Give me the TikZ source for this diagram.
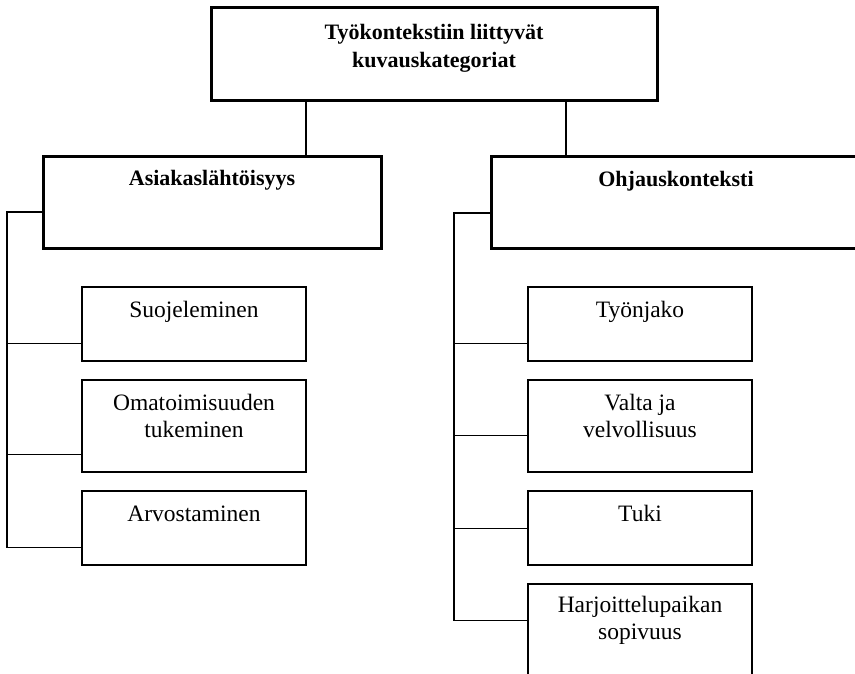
\documentclass[tikz,border=0pt]{standalone}
\usepackage{fontspec}
\setmainfont{Liberation Serif}
\begin{document}
\begin{tikzpicture}[x=1pt,y=-1pt,
  thickbox/.style={draw, line width=3pt, inner sep=0pt},
  thinbox/.style={draw, line width=1.4pt, inner sep=0pt},
  conn/.style={line width=1.2pt},
  lbl/.style={inner sep=0pt, align=center, font=\fontsize{23.5}{27}\selectfont},
  blbl/.style={inner sep=0pt, align=center, font=\fontsize{22}{28}\selectfont\bfseries}]
\useasboundingbox (0,0) rectangle (855,674);
% boxes
\node[thickbox, minimum width=446pt, minimum height=93pt] (T) at (434,54.5) {};
\node[thickbox, minimum width=338pt, minimum height=92pt] (A) at (212,203) {};
\node[thickbox, minimum width=379pt, minimum height=92pt] (O) at (680.5,203) {};
\node[thinbox, minimum width=224pt, minimum height=74pt] (S) at (194,324) {};
\node[thinbox, minimum width=224pt, minimum height=92pt] (Om) at (194,426) {};
\node[thinbox, minimum width=224pt, minimum height=74pt] (Ar) at (194,528) {};
\node[thinbox, minimum width=224pt, minimum height=74pt] (Ty) at (640,324) {};
\node[thinbox, minimum width=224pt, minimum height=92pt] (V) at (640,426) {};
\node[thinbox, minimum width=224pt, minimum height=74pt] (Tu) at (640,528) {};
\node[thinbox, minimum width=224pt, minimum height=110pt] (H) at (640,639) {};
% labels (anchor base = baseline of last line)
\node[blbl, anchor=base] (tT) at ([yshift=-61pt]T.north) {Työkontekstiin liittyvät\\kuvauskategoriat};
\node[blbl, anchor=base] (tA) at ([yshift=-30pt]A.north) {Asiakaslähtöisyys};
\node[blbl, anchor=base] (tO) at ([yshift=-31pt]O.north -| 676,0) {Ohjauskonteksti};
\node[lbl, anchor=base] (tS) at ([yshift=-31pt]S.north) {Suojeleminen};
\node[lbl, anchor=base] (tOm) at ([yshift=-58pt]Om.north) {Omatoimisuuden\\tukeminen};
\node[lbl, anchor=base] (tAr) at ([yshift=-31pt]Ar.north) {Arvostaminen};
\node[lbl, anchor=base] (tTy) at ([yshift=-31pt]Ty.north) {Työnjako};
\node[lbl, anchor=base] (tV) at ([yshift=-58pt]V.north) {Valta ja\\velvollisuus};
\node[lbl, anchor=base] (tTu) at ([yshift=-31pt]Tu.north) {Tuki};
\node[lbl, anchor=base] (tH) at ([yshift=-56pt]H.north) {Harjoittelupaikan\\sopivuus};
% connectors from top box
\coordinate (ta) at (306,0);
\coordinate (tb) at (566,0);
\draw[conn] (T.south -| ta) -- (A.north -| ta);
\draw[conn] (T.south -| tb) -- (O.north -| tb);
% left bus
\coordinate (lb) at (7,212);
\coordinate (cS) at ([yshift=18pt]S.south west);
\coordinate (cOm) at ([yshift=18pt]Om.south west);
\coordinate (cAr) at ([yshift=18pt]Ar.south west);
\draw[conn] (A.west |- lb) -- (lb) -- (lb |- cAr) -- (cAr);
\draw[conn] (lb |- cS) -- (cS);
\draw[conn] (lb |- cOm) -- (cOm);
% right bus
\coordinate (rb) at (454,213);
\coordinate (cTy) at ([yshift=18pt]Ty.south west);
\coordinate (cV) at ([yshift=37pt]V.south west);
\coordinate (cTu) at ([yshift=37pt]Tu.south west);
\coordinate (cH) at ([yshift=-37pt]H.north west);
\draw[conn] (O.west |- rb) -- (rb) -- (rb |- cH) -- (cH);
\draw[conn] (rb |- cTy) -- (cTy);
\draw[conn] (rb |- cV) -- (cV);
\draw[conn] (rb |- cTu) -- (cTu);
\end{tikzpicture}
\end{document}
